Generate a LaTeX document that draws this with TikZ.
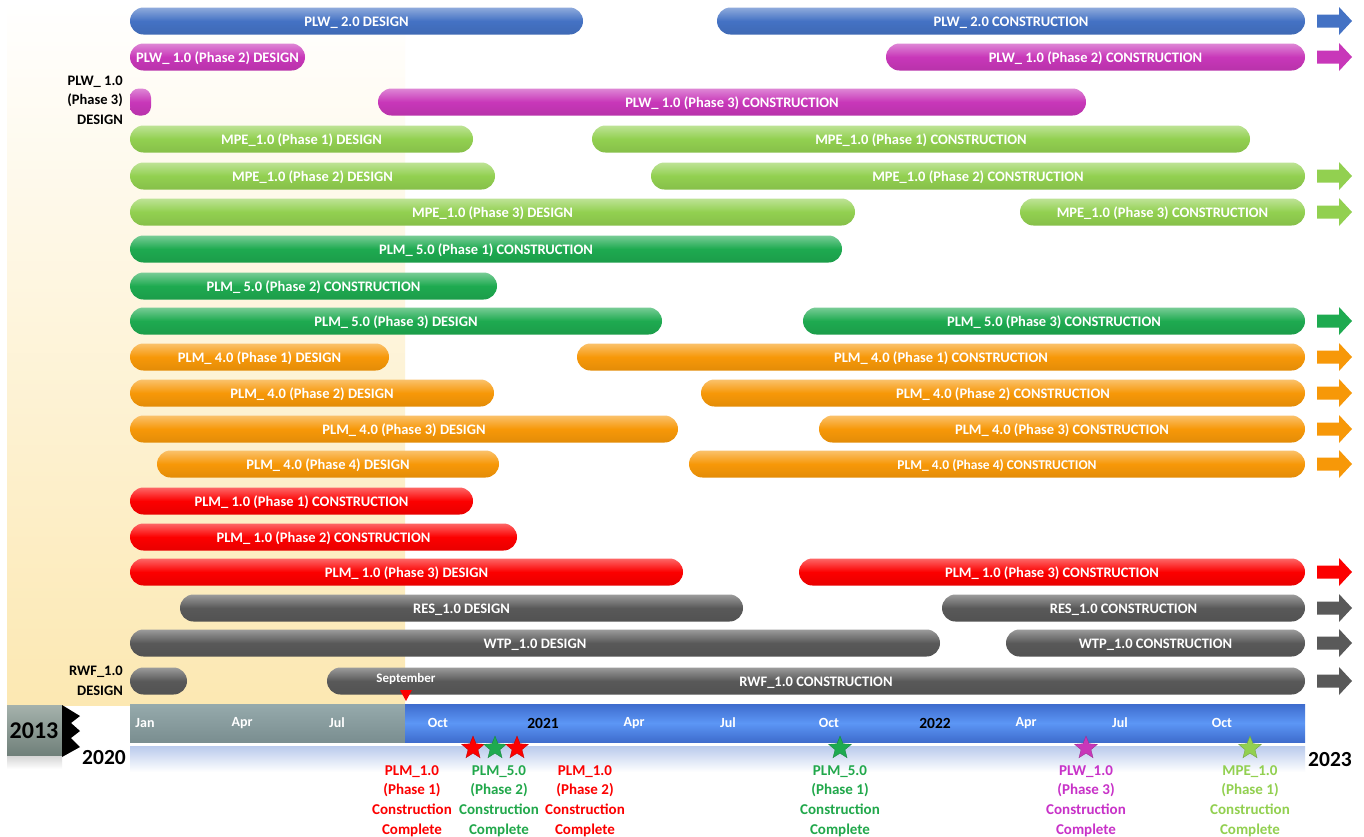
\documentclass[tikz,border=0pt]{standalone}
\usepackage{fontspec}
\setmainfont{Carlito}
\usetikzlibrary{shapes.misc,shapes.geometric}

\definecolor{cblue}{RGB}{68,114,196}
\definecolor{cmag}{RGB}{200,55,185}
\definecolor{clg}{RGB}{146,208,80}
\definecolor{cgr}{RGB}{30,170,80}
\definecolor{cor}{RGB}{247,152,8}
\definecolor{cred}{RGB}{252,0,0}
\definecolor{cgray}{RGB}{89,89,89}
\definecolor{tgreen}{RGB}{33,168,75}
\definecolor{tmag}{RGB}{200,50,200}
\definecolor{beige}{RGB}{252,232,178}
\definecolor{tlgray}{RGB}{150,170,172}
\definecolor{tdgray}{RGB}{122,142,144}
\definecolor{tbdark}{RGB}{62,108,205}
\definecolor{tblight}{RGB}{92,150,245}

\tikzset{
  barbox/.style={rounded rectangle, minimum height=27pt, inner sep=0pt, text=white,
    text height=11pt, text depth=0pt,
    font=\bfseries\fontsize{14.5}{16}\selectfont,
    top color=#1!60!white, bottom color=#1!92!black, middle color=#1},
  sidelbl/.style={anchor=east, inner sep=0pt, font=\bfseries\fontsize{14.5}{19.5}\selectfont},
  monthlbl/.style={text=white, font=\bfseries\fontsize{14}{16}\selectfont},
  yearlbl/.style={text=black, font=\bfseries\fontsize{15.5}{17}\selectfont},
  milelbl/.style={align=center, font=\bfseries\fontsize{15}{19.7}\selectfont},
  mstar/.style={star, star points=5, star point ratio=2.3, minimum size=24pt, inner sep=0pt,
    fill=#1, draw=#1!75!black, line width=0.3pt},
}
\newcommand\gb[6]{\node[barbox=#4, minimum width={#3pt-#2pt}] (#1) at ({(#2+#3)/2},#5) {#6};}
\newcommand\rarr[2]{\fill[#1] (1317,#2-6.5) -- (1339,#2-6.5) -- (1339,#2-14) -- (1352,#2) -- (1339,#2+14) -- (1339,#2+6.5) -- (1317,#2+6.5) -- cycle;}

\begin{document}
\begin{tikzpicture}[x=1pt,y=-1pt]
\useasboundingbox (0,0) rectangle (1364,836);
\fill[white] (0,0) rectangle (1364,836);
% beige background
\shade[top color=white, bottom color=beige] (7,0) rectangle (405,705);

% rows
\gb{r1a}{130}{583}{cblue}{21}{PLW\_ 2.0 DESIGN}
\gb{r1b}{717}{1305}{cblue}{21}{PLW\_ 2.0 CONSTRUCTION}
\rarr{cblue}{21}
\gb{r2a}{130}{305}{cmag}{57}{PLW\_ 1.0 (Phase 2) DESIGN}
\gb{r2b}{886}{1305}{cmag}{57}{PLW\_ 1.0 (Phase 2) CONSTRUCTION}
\rarr{cmag}{57}
\node[rectangle, rounded corners=9pt, minimum width=21pt, minimum height=27pt, inner sep=0pt,
  top color=cmag!60!white, bottom color=cmag!92!black, middle color=cmag] (r3a) at (140.5,102) {};
\node[sidelbl] (l3) at (123,101) {\begin{tabular}{@{}r@{}}PLW\_ 1.0\\(Phase 3)\\DESIGN\end{tabular}};
\gb{r3b}{378}{1086}{cmag}{102}{PLW\_ 1.0 (Phase 3) CONSTRUCTION}
\gb{r4a}{130}{473}{clg}{139}{MPE\_1.0 (Phase 1) DESIGN}
\gb{r4b}{592}{1250}{clg}{139}{MPE\_1.0 (Phase 1) CONSTRUCTION}
\gb{r5a}{130}{495}{clg}{176}{MPE\_1.0 (Phase 2) DESIGN}
\gb{r5b}{651}{1305}{clg}{176}{MPE\_1.0 (Phase 2) CONSTRUCTION}
\rarr{clg}{176}
\gb{r6a}{130}{855}{clg}{212}{MPE\_1.0 (Phase 3) DESIGN}
\gb{r6b}{1020}{1305}{clg}{212}{MPE\_1.0 (Phase 3) CONSTRUCTION}
\rarr{clg}{212}
\gb{r7a}{130}{842}{cgr}{249}{PLM\_ 5.0 (Phase 1) CONSTRUCTION}
\gb{r8a}{130}{497}{cgr}{286}{PLM\_ 5.0 (Phase 2) CONSTRUCTION}
\gb{r9a}{130}{662}{cgr}{321}{PLM\_ 5.0 (Phase 3) DESIGN}
\gb{r9b}{803}{1305}{cgr}{321}{PLM\_ 5.0 (Phase 3) CONSTRUCTION}
\rarr{cgr}{321}
\gb{r10a}{130}{389}{cor}{357}{PLM\_ 4.0 (Phase 1) DESIGN}
\gb{r10b}{577}{1305}{cor}{357}{PLM\_ 4.0 (Phase 1) CONSTRUCTION}
\rarr{cor}{357}
\gb{r11a}{130}{494}{cor}{393}{PLM\_ 4.0 (Phase 2) DESIGN}
\gb{r11b}{701}{1305}{cor}{393}{PLM\_ 4.0 (Phase 2) CONSTRUCTION}
\rarr{cor}{393}
\gb{r12a}{130}{678}{cor}{429}{PLM\_ 4.0 (Phase 3) DESIGN}
\gb{r12b}{819}{1305}{cor}{429}{PLM\_ 4.0 (Phase 3) CONSTRUCTION}
\rarr{cor}{429}
\gb{r13a}{157}{499}{cor}{464}{PLM\_ 4.0 (Phase 4) DESIGN}
\gb{r13b}{689}{1305}{cor}{464}{\fontsize{13.5}{15}\selectfont PLM\_ 4.0 (Phase 4) CONSTRUCTION}
\rarr{cor}{464}
\gb{r14a}{130}{473}{cred}{501}{PLM\_ 1.0 (Phase 1) CONSTRUCTION}
\gb{r15a}{130}{517}{cred}{537}{PLM\_ 1.0 (Phase 2) CONSTRUCTION}
\gb{r16a}{130}{683}{cred}{572}{PLM\_ 1.0 (Phase 3) DESIGN}
\gb{r16b}{799}{1305}{cred}{572}{PLM\_ 1.0 (Phase 3) CONSTRUCTION}
\rarr{cred}{572}
\gb{r17a}{180}{743}{cgray}{608}{RES\_1.0 DESIGN}
\gb{r17b}{942}{1305}{cgray}{608}{RES\_1.0 CONSTRUCTION}
\rarr{cgray}{608}
\gb{r18a}{130}{940}{cgray}{643}{WTP\_1.0 DESIGN}
\gb{r18b}{1006}{1305}{cgray}{643}{WTP\_1.0 CONSTRUCTION}
\rarr{cgray}{643}
\gb{r19a}{130}{187}{cgray}{681}{}
\node[sidelbl] (l19) at (123,681.5) {\begin{tabular}{@{}r@{}}RWF\_1.0\\DESIGN\end{tabular}};
\gb{r19b}{327}{1305}{cgray}{681}{RWF\_1.0 CONSTRUCTION}
\rarr{cgray}{681}
\node[text=white, font=\bfseries\fontsize{13}{15}\selectfont] (sept) at (406,679) {September};
\fill[cred] (400,690) -- (412,690) -- (406,701) -- cycle;

% timeline
\shade[top color=tlgray, bottom color=tdgray] (130,704) rectangle (405,742);
\shade[top color=tbdark, bottom color=tbdark, middle color=tblight] (405,704) rectangle (1305,742);
\shade[top color={rgb,255:red,185;green,202;blue,236}, bottom color=white] (130,746) rectangle (1305,772);
\node[monthlbl] (m1) at (145,723) {Jan};
\node[monthlbl] (m2) at (242,723) {Apr};
\node[monthlbl] (m3) at (337,723) {Jul};
\node[monthlbl] (m4) at (438,723) {Oct};
\node[yearlbl] (y21) at (543,723) {2021};
\node[monthlbl] (m5) at (634,723) {Apr};
\node[monthlbl] (m6) at (728,723) {Jul};
\node[monthlbl] (m7) at (829,723) {Oct};
\node[yearlbl] (y22) at (935,723) {2022};
\node[monthlbl] (m8) at (1026,723) {Apr};
\node[monthlbl] (m9) at (1120,723) {Jul};
\node[monthlbl] (m10) at (1222,723) {Oct};

% 2013 / 2020 / 2023
\shade[top color=gray!35, bottom color=white] (7,755) rectangle (62,769);
\shade[top color={rgb,255:red,165;green,178;blue,172}, bottom color={rgb,255:red,112;green,128;blue,122}] (7,705) rectangle (62,755);
\node[font=\bfseries\fontsize{24}{26}\selectfont] (y13) at (34,731) {2013};
\fill[black] (62,705) -- (80,716) -- (71,723) -- (80,731) -- (71,738) -- (80,747) -- (62,757) -- cycle;
\node[font=\bfseries\fontsize{21.5}{24}\selectfont] (y20) at (104,758) {2020};
\node[font=\bfseries\fontsize{21.5}{24}\selectfont] (y23) at (1330,760) {2023};

% milestones
\node[mstar=cred] (s1) at (473,748) {};
\node[mstar=cgr] (s2) at (495,748) {};
\node[mstar=cred] (s3) at (517,748) {};
\node[mstar=cgr] (s4) at (840,748) {};
\node[mstar=cmag] (s5) at (1086,748) {};
\node[mstar=clg] (s6) at (1250,748) {};
\node[milelbl, text=cred] (t1) at (412,801) {PLM\_1.0\\(Phase 1)\\Construction\\Complete};
\node[milelbl, text=tgreen] (t2) at (499,801) {PLM\_5.0\\(Phase 2)\\Construction\\Complete};
\node[milelbl, text=cred] (t3) at (585,801) {PLM\_1.0\\(Phase 2)\\Construction\\Complete};
\node[milelbl, text=tgreen] (t4) at (840,801) {PLM\_5.0\\(Phase 1)\\Construction\\Complete};
\node[milelbl, text=tmag] (t5) at (1086,801) {PLW\_1.0\\(Phase 3)\\Construction\\Complete};
\node[milelbl, text=clg] (t6) at (1250,801) {MPE\_1.0\\(Phase 1)\\Construction\\Complete};
\end{tikzpicture}
\end{document}
